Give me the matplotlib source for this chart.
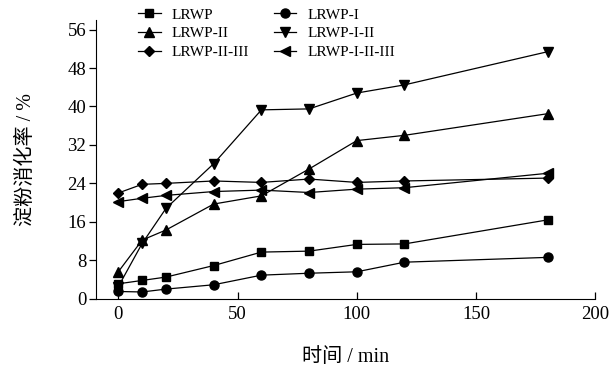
import numpy as np
import matplotlib
matplotlib.use('Agg')
import matplotlib.pyplot as plt

plt.rcParams['font.family'] = ['Liberation Serif', 'Noto Sans CJK SC']

# time points (min)
t = [0, 10, 20, 40, 60, 80, 100, 120, 180]

# starch digestibility (%)
LRWP = [3.1, 3.8, 4.5, 6.9, 9.7, 9.9, 11.3, 11.4, 16.4]
LRWP_I = [1.5, 1.4, 2.0, 2.9, 4.9, 5.3, 5.6, 7.6, 8.6]
LRWP_II = [5.6, 12.2, 14.3, 19.7, 21.4, 27.0, 32.9, 34.0, 38.5]
LRWP_I_II = [2.5, 11.5, 18.8, 28.1, 39.3, 39.5, 42.8, 44.5, 51.4]
LRWP_II_III = [22.0, 23.8, 24.0, 24.5, 24.2, 24.9, 24.2, 24.5, 25.1]
LRWP_I_II_III = [20.2, 20.9, 21.5, 22.3, 22.6, 22.1, 22.8, 23.1, 26.1]

names = ['LRWP', 'LRWP-I', 'LRWP-II', 'LRWP-I-II', 'LRWP-II-III', 'LRWP-I-II-III']
series = [LRWP, LRWP_I, LRWP_II, LRWP_I_II, LRWP_II_III, LRWP_I_II_III]
markers = ['s', 'o', '^', 'v', 'D', '<']
msizes = [5.5, 6.5, 7, 7, 5.5, 7]

fig = plt.figure(figsize=(6.1, 3.68), dpi=100)
ax = fig.add_axes([96/610, 1 - 298.7/368, (595.3 - 96)/610, (298.7 - 20)/368])

lines = []
for name, vals, m, ms in zip(names, series, markers, msizes):
    ln, = ax.plot(t, vals, color='black', lw=0.9, marker=m, markersize=ms,
                  markerfacecolor='black', markeredgecolor='black', label=name)
    lines.append(ln)

ax.set_xlim(-9.35, 200)
ax.set_ylim(0, 58)
ax.set_xticks([0, 50, 100, 150, 200])
ax.set_yticks(np.arange(0, 57, 8))
ax.spines['top'].set_visible(False)
ax.spines['right'].set_visible(False)
ax.tick_params(axis='x', direction='in', length=5, width=0.9, labelsize=13.5, pad=5)
ax.tick_params(axis='y', direction='out', length=5, width=0.9, labelsize=13.5, pad=2)

ax.set_xlabel('时间 / min', fontsize=14.5, labelpad=18)
ax.set_ylabel('淀粉消化率 / %', fontsize=14.5, labelpad=23)

# legend: rows of (LRWP, LRWP-I), (LRWP-II, LRWP-I-II), (LRWP-II-III, LRWP-I-II-III)
order = [0, 2, 4, 1, 3, 5]
ax.legend([lines[i] for i in order], [names[i] for i in order], ncol=2,
          frameon=False, fontsize=11, loc='upper left',
          bbox_to_anchor=(138/610, 1 - 8/368), bbox_transform=fig.transFigure,
          borderpad=0, borderaxespad=0, handlelength=1.5, handletextpad=0.7,
          labelspacing=0.32, columnspacing=1.6)

fig.savefig('out.png', dpi=100)
